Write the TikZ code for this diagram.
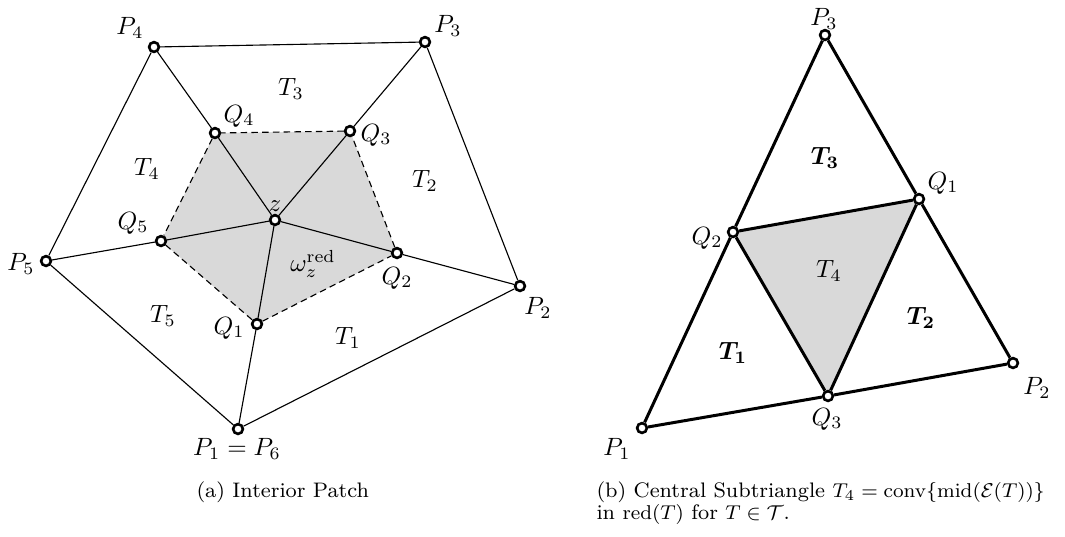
\documentclass[tikz,border=0pt]{standalone}
\usepackage{amsmath}
\usetikzlibrary{backgrounds}
\begin{document}
\begin{tikzpicture}[x=0.4pt,y=-0.4pt,
  vtx/.style={circle,draw,fill=white,line width=1.05pt,inner sep=0pt,minimum size=3.9pt},
  thinedge/.style={line width=0.45pt},
  dashedge/.style={line width=0.45pt,dash pattern=on 2.6pt off 1.7pt},
  thickedge/.style={line width=1.2pt},
  lab/.style={inner sep=0pt},
  patch/.style={fill=black!15},
  capt/.style={anchor=west,inner sep=0pt,font=\fontsize{8.4}{10}\selectfont}]
\useasboundingbox (0,0) rectangle (1065,536);

% ---------- (a) interior patch ----------
\node[vtx] (P1) at (238,429) {};
\node[vtx] (P2) at (520,286) {};
\node[vtx] (P3) at (425,42) {};
\node[vtx] (P4) at (154,47) {};
\node[vtx] (P5) at (46,261) {};
\node[vtx] (Q1) at (257,324) {};
\node[vtx] (Q2) at (397,253) {};
\node[vtx] (Q3) at (350,131) {};
\node[vtx] (Q4) at (215,133) {};
\node[vtx] (Q5) at (161,241) {};
\node[vtx] (z)  at (275,220) {};

\begin{scope}[on background layer]
  \fill[patch] (Q1.center) -- (Q2.center) -- (Q3.center) -- (Q4.center) -- (Q5.center) -- cycle;
\end{scope}

\draw[thinedge] (P1) -- (P2);
\draw[thinedge] (P2) -- (P3);
\draw[thinedge] (P3) -- (P4);
\draw[thinedge] (P4) -- (P5);
\draw[thinedge] (P5) -- (P1);
\draw[thinedge] (P1) -- (Q1);
\draw[thinedge] (P2) -- (Q2);
\draw[thinedge] (P3) -- (Q3);
\draw[thinedge] (P4) -- (Q4);
\draw[thinedge] (P5) -- (Q5);
\draw[thinedge] (Q1) -- (z);
\draw[thinedge] (Q2) -- (z);
\draw[thinedge] (Q3) -- (z);
\draw[thinedge] (Q4) -- (z);
\draw[thinedge] (Q5) -- (z);
\draw[dashedge] (Q1) -- (Q2);
\draw[dashedge] (Q2) -- (Q3);
\draw[dashedge] (Q3) -- (Q4);
\draw[dashedge] (Q4) -- (Q5);
\draw[dashedge] (Q5) -- (Q1);

\node[lab] (lP4) at (130,28) {$P_4$};
\node[lab] (lP3) at (448,26) {$P_3$};
\node[lab] (lQ4) at (239,116) {$Q_4$};
\node[lab] (lQ3) at (376,135) {$Q_3$};
\node[lab] (lT3) at (291,89) {$T_3$};
\node[lab] (lT4) at (147,169) {$T_4$};
\node[lab] (lT2) at (425,181) {$T_2$};
\node[lab] (lz)  at (275,206) {$z$};
\node[lab] (lQ5) at (133,223) {$Q_5$};
\node[lab] (lP5) at (21,264) {$P_5$};
\node[lab] (lom) at (313,264) {$\omega_z^{\mathrm{red}}$};
\node[lab] (lQ2) at (397,278) {$Q_2$};
\node[lab] (lP2) at (538,308) {$P_2$};
\node[lab] (lT5) at (163,316) {$T_5$};
\node[lab] (lQ1) at (229,328) {$Q_1$};
\node[lab] (lT1) at (348,338) {$T_1$};
\node[lab] (lP1) at (237,449) {$P_1 = P_6$};

\node[capt] (capa) at (196,492) {(a) Interior Patch};

% ---------- (b) central subtriangle ----------
\node[vtx] (R1) at (642,428) {};
\node[vtx] (R2) at (1013,363) {};
\node[vtx] (R3) at (825,35) {};
\node[vtx] (S1) at (919,199) {};
\node[vtx] (S2) at (733,232) {};
\node[vtx] (S3) at (828,396) {};

\begin{scope}[on background layer]
  \fill[patch] (S1.center) -- (S2.center) -- (S3.center) -- cycle;
\end{scope}

\draw[thickedge] (R1) -- (S3);
\draw[thickedge] (S3) -- (R2);
\draw[thickedge] (R2) -- (S1);
\draw[thickedge] (S1) -- (R3);
\draw[thickedge] (R3) -- (S2);
\draw[thickedge] (S2) -- (R1);
\draw[thickedge] (S1) -- (S2);
\draw[thickedge] (S2) -- (S3);
\draw[thickedge] (S3) -- (S1);

\node[lab] (lR3) at (824,19) {$P_3$};
\node[lab] (lS1) at (943,183) {$Q_1$};
\node[lab] (lS2) at (707,238) {$Q_2$};
\node[lab] (lU3) at (825,158) {$\boldsymbol{T_3}$};
\node[lab] (lU4) at (829,271) {$T_4$};
\node[lab] (lU2) at (921,318) {$\boldsymbol{T_2}$};
\node[lab] (lU1) at (733,353) {$\boldsymbol{T_1}$};
\node[lab] (lS3) at (827,419) {$Q_3$};
\node[lab] (lR2) at (1037,388) {$P_2$};
\node[lab] (lR1) at (617,449) {$P_1$};

\node[capt] (capb1) at (596,492) {(b) Central Subtriangle $T_4 = \mathrm{conv}\{\mathrm{mid}(\mathcal{E}(T))\}$};
\node[capt] (capb2) at (596,514) {in $\mathrm{red}(T)$ for $T \in \mathcal{T}$.};
\end{tikzpicture}
\end{document}
